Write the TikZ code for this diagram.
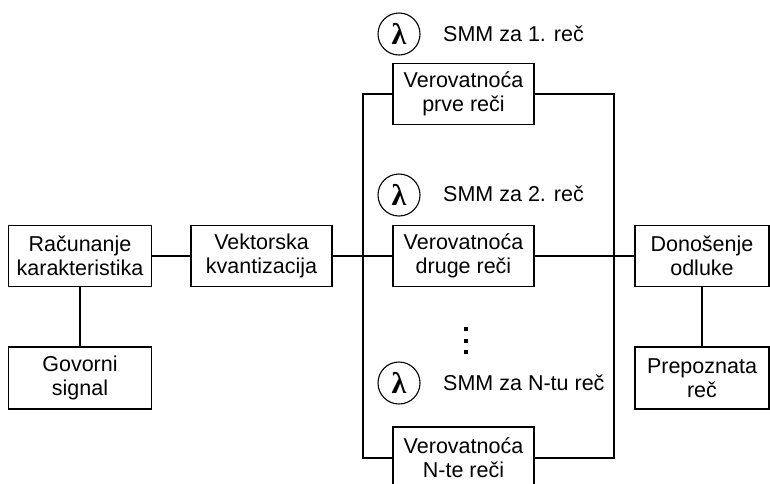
\documentclass[tikz,border=0pt]{standalone}
\usepackage{fontspec}
\setmainfont{Liberation Sans}
\newfontfamily\lamfont{Liberation Serif}
\begin{document}
\begin{tikzpicture}[x=1pt,y=-1pt,
  box/.style={draw,line width=1.2pt,minimum width=141pt,minimum height=61pt,align=center,inner sep=0pt,
    font=\fontsize{21.5}{24}\selectfont},
  conn/.style={line width=1.2pt},
  lam/.style={draw,circle,line width=1.1pt,minimum size=42pt,inner sep=0pt,font=\fontsize{30}{30}\selectfont\lamfont\bfseries},
  lbl/.style={anchor=west,inner sep=0pt,font=\fontsize{21.5}{24}\selectfont}]
\useasboundingbox (0,0) rectangle (770,483);
\clip (0,0) rectangle (770,483);
\node[box,minimum width=143pt] (rac) at (80,256) {Računanje\\karakteristika};
\node[box,minimum width=143pt,minimum height=62pt] (gov) at (80,378) {Govorni\\signal};
\node[box] (vek) at (261.5,256) {Vektorska\\kvantizacija};
\node[box] (prve) at (463.5,94) {Verovatnoća\\prve reči};
\node[box] (druge) at (463.5,256) {Verovatnoća\\druge reči};
\node[box,minimum height=62pt] (nte) at (463.5,458) {Verovatnoća\\N-te reči};
\node[box,minimum width=134pt] (don) at (702,256) {Donošenje\\odluke};
\node[box,minimum width=134pt,minimum height=62pt] (pre) at (702,378) {Prepoznata\\reč};
\node[lam] (l1) at (399,34) {λ};
\node[lam] (l2) at (399,195) {λ};
\node[lam] (l3) at (399,383) {λ};
\node[lbl] (t1) at (443,34) {SMM za 1. reč};
\node[lbl] (t2) at (443,194) {SMM za 2. reč};
\node[lbl] (t3) at (443,383) {SMM za N-tu reč};
\coordinate (lt) at (363,94);
\coordinate (lb) at (363,458);
\coordinate (rt) at (614,94);
\coordinate (rb) at (614,458);
\draw[conn] (rac.east) -- (vek.west);
\draw[conn] (rac.south) -- (gov.north);
\draw[conn] (vek.east) -- (druge.west);
\draw[conn] (druge.east) -- (don.west);
\draw[conn] (don.south) -- (pre.north);
\draw[conn] (prve.west) -- (lt) -- (lb) -- (nte.west);
\draw[conn] (prve.east) -- (rt) -- (rb) -- (nte.east);
\foreach \yy in {329,341,352} \fill (466,\yy) +(-1.6,-1.6) rectangle +(1.6,1.6);
\end{tikzpicture}
\end{document}
